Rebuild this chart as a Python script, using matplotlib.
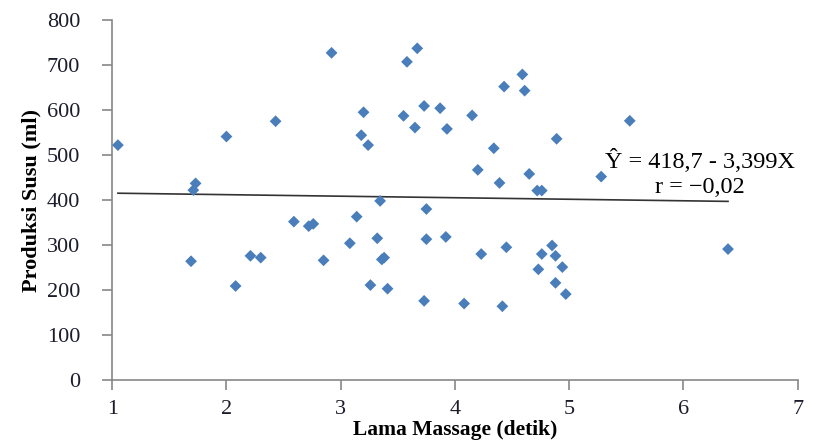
import matplotlib.pyplot as plt
import numpy as np

# lama massage (detik) vs produksi susu (ml)
lama = [1.05, 1.73, 1.71, 1.69, 2.00, 2.08, 2.21, 2.30, 2.43, 2.59,
        2.72, 2.76, 2.85, 2.92, 3.08, 3.14, 3.18, 3.20, 3.24, 3.26,
        3.32, 3.345, 3.36, 3.38, 3.41, 3.55, 3.58, 3.65, 3.67, 3.73,
        3.73, 3.75, 3.75, 3.87, 3.93, 3.92, 4.08, 4.15, 4.20, 4.23,
        4.34, 4.39, 4.415, 4.43, 4.45, 4.59, 4.61, 4.65, 4.72, 4.76,
        4.73, 4.76, 4.85, 4.88, 4.88, 4.89, 4.94, 4.97, 5.28, 5.53, 6.39]
susu = [522, 437, 422, 264, 541, 209, 276, 272, 575, 352,
        342, 347, 266, 727, 304, 363, 544, 595, 522, 211,
        315, 398, 268, 272, 203, 587, 707, 561, 737, 609,
        176, 380, 313, 604, 558, 318, 170, 588, 467, 280,
        515, 438, 164, 652, 295, 679, 643, 458, 421, 421,
        246, 280, 299, 276, 216, 536, 251, 191, 452, 576, 291]

intercept = 418.7
slope = -3.399
x_ticks = [1, 2, 3, 4, 5, 6, 7]
y_ticks = [0, 100, 200, 300, 400, 500, 600, 700, 800]

plt.rcParams['font.family'] = ['Liberation Serif', 'DejaVu Serif']

fig = plt.figure(figsize=(8.19, 4.44), dpi=100)
ax = fig.add_axes([0.137, 0.144, 0.837, 0.811])

ax.scatter(lama, susu, marker='D', s=36, color='#4a7ebb', edgecolors='none', zorder=3)

# garis regresi
xr = np.array([min(lama), max(lama)])
ax.plot(xr, intercept + slope * xr, color='#333333', lw=1.2, zorder=2)

ax.set_xlim(1, 7)
ax.set_ylim(0, 800)
ax.set_xticks(x_ticks)
ax.set_yticks(y_ticks)
ax.tick_params(axis='both', labelsize=16, colors='#888888', labelcolor='#1c1c2c',
               length=7, width=1.2, direction='out')
ax.tick_params(axis='x', pad=7)
ax.tick_params(axis='y', pad=16)
for s in ['top', 'right']:
    ax.spines[s].set_visible(False)
for s in ['left', 'bottom']:
    ax.spines[s].set_color('#888888')
    ax.spines[s].set_linewidth(1.2)

ax.set_xlabel('Lama Massage (detik)', fontsize=15.5, fontweight='bold', labelpad=1)
ax.set_ylabel('Produksi Susu (ml)', fontsize=16, fontweight='bold', labelpad=4)

ax.text(5.31, 487, 'Ŷ = 418,7 - 3,399X', fontsize=17.5, ha='left', va='center')
ax.text(5.75, 428, 'r = −0,02', fontsize=17.5, ha='left', va='center')

fig.savefig('out.png', dpi=100)
